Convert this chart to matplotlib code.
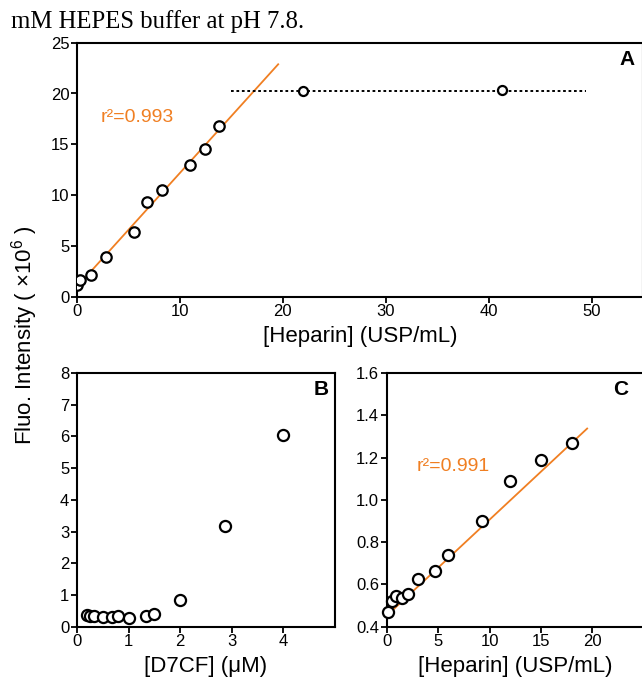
import numpy as np
import matplotlib
matplotlib.use("Agg")
import matplotlib.pyplot as plt

plt.rcParams['font.family'] = ['Liberation Sans', 'DejaVu Sans']
plt.rcParams['mathtext.fontset'] = 'custom'
plt.rcParams['mathtext.rm'] = 'Liberation Sans'
plt.rcParams['mathtext.it'] = 'Liberation Sans:italic'

# panel A: heparin titration (x1e6 counts)
hepA = [0.0, 0.25, 1.35, 2.8, 5.5, 6.85, 8.25, 11.0, 12.4, 13.75]
fluoA = [1.2, 1.65, 2.15, 3.95, 6.35, 9.35, 10.55, 12.95, 14.55, 16.85]
hepA_sat = [22.0, 41.3]
fluoA_sat = [20.2, 20.35]
fitA = [0.98, 1.12]        # intercept, slope
fitA_range = [0.0, 19.55]
plateauA = 20.25
plateauA_range = [15.0, 49.5]

# panel B: dye concentration series
d7cf = [0.2, 0.25, 0.33, 0.5, 0.67, 0.8, 1.0, 1.33, 1.5, 2.0, 2.86, 4.0]
fluoB = [0.36, 0.33, 0.35, 0.31, 0.31, 0.33, 0.28, 0.35, 0.41, 0.84, 3.19, 6.05]

# panel C: heparin titration at low dye
hepC = [0.1, 0.5, 0.95, 1.5, 2.05, 3.0, 4.65, 6.0, 9.3, 12.0, 15.0, 18.0]
fluoC = [0.468, 0.523, 0.545, 0.535, 0.553, 0.626, 0.664, 0.740, 0.902, 1.087, 1.19, 1.268]
fitC = [0.452, 0.0454]
fitC_range = [0.0, 19.5]

orange = '#F07F22'
W, H = 642, 680

fig = plt.figure(figsize=(W / 100, H / 100), dpi=100)
axA = fig.add_axes([77 / W, 1 - 296.7 / H, 566 / W, 254 / H])
axB = fig.add_axes([77 / W, 1 - 626.7 / H, 258 / W, 253.7 / H])
axC = fig.add_axes([386.7 / W, 1 - 626.7 / H, 257 / W, 253.7 / H])


def style(ax):
    for s in ax.spines.values():
        s.set_linewidth(1.5)
    ax.tick_params(direction='out', length=4, width=1.3, labelsize=12, pad=1.5)


# --- A ---
xa = np.array(fitA_range)
axA.plot(xa, fitA[0] + fitA[1] * xa, color=orange, lw=1.3, zorder=2)
axA.plot(plateauA_range, [plateauA, plateauA], color='black', lw=1.4,
         dashes=(1.4, 1.4), zorder=2)
axA.plot(hepA, fluoA, 'o', mfc='white', mec='black', ms=7.5, mew=1.6, zorder=3)
axA.plot(hepA_sat, fluoA_sat, 'o', mfc='white', mec='black', ms=6.5, mew=1.6, zorder=3)
axA.text(2.3, 17.6, 'r²=0.993', color=orange, fontsize=14, va='center')
axA.set_xlim(0, 55)
axA.set_ylim(0, 25)
axA.set_xticks([0, 10, 20, 30, 40, 50])
axA.set_yticks([0, 5, 10, 15, 20, 25])
axA.set_xlabel('[Heparin] (USP/mL)', fontsize=16, labelpad=5)
axA.text(0.985, 0.935, 'A', transform=axA.transAxes, fontsize=15,
         fontweight='bold', ha='right', va='center')
style(axA)

# --- B ---
axB.plot(d7cf, fluoB, 'o', mfc='white', mec='black', ms=8, mew=1.6, clip_on=False)
axB.set_xlim(0, 5)
axB.set_ylim(0, 8)
axB.set_xticks([0, 1, 2, 3, 4])
axB.set_yticks(range(9))
axB.set_xlabel('[D7CF] (μM)', fontsize=16, labelpad=5)
axB.text(0.975, 0.935, 'B', transform=axB.transAxes, fontsize=15,
         fontweight='bold', ha='right', va='center')
style(axB)

# --- C ---
xc = np.array(fitC_range)
axC.plot(xc, fitC[0] + fitC[1] * xc, color=orange, lw=1.3, zorder=2)
axC.plot(hepC, fluoC, 'o', mfc='white', mec='black', ms=8, mew=1.6, zorder=3,
         clip_on=False)
axC.text(2.9, 1.16, 'r²=0.991', color=orange, fontsize=14, va='center')
axC.set_xlim(0, 25)
axC.set_ylim(0.4, 1.6)
axC.set_xticks([0, 5, 10, 15, 20])
axC.set_yticks([0.4, 0.6, 0.8, 1.0, 1.2, 1.4, 1.6])
axC.set_yticklabels(['0.4', '0.6', '0.8', '1.0', '1.2', '1.4', '1.6'])
axC.set_xlabel('[Heparin] (USP/mL)', fontsize=16, labelpad=5)
axC.text(0.94, 0.935, 'C', transform=axC.transAxes, fontsize=15,
         fontweight='bold', ha='right', va='center')
style(axC)

fig.text(25 / W, 1 - 335 / H, r'Fluo. Intensity ( $\times$10$^{6}$ )', rotation=90,
         fontsize=16, ha='center', va='center')
fig.text(11 / W, 1 - 28 / H, 'mM HEPES buffer at pH 7.8.', fontsize=17.8,
         family='Liberation Serif', ha='left', va='baseline')

fig.savefig('out.png', dpi=100)
